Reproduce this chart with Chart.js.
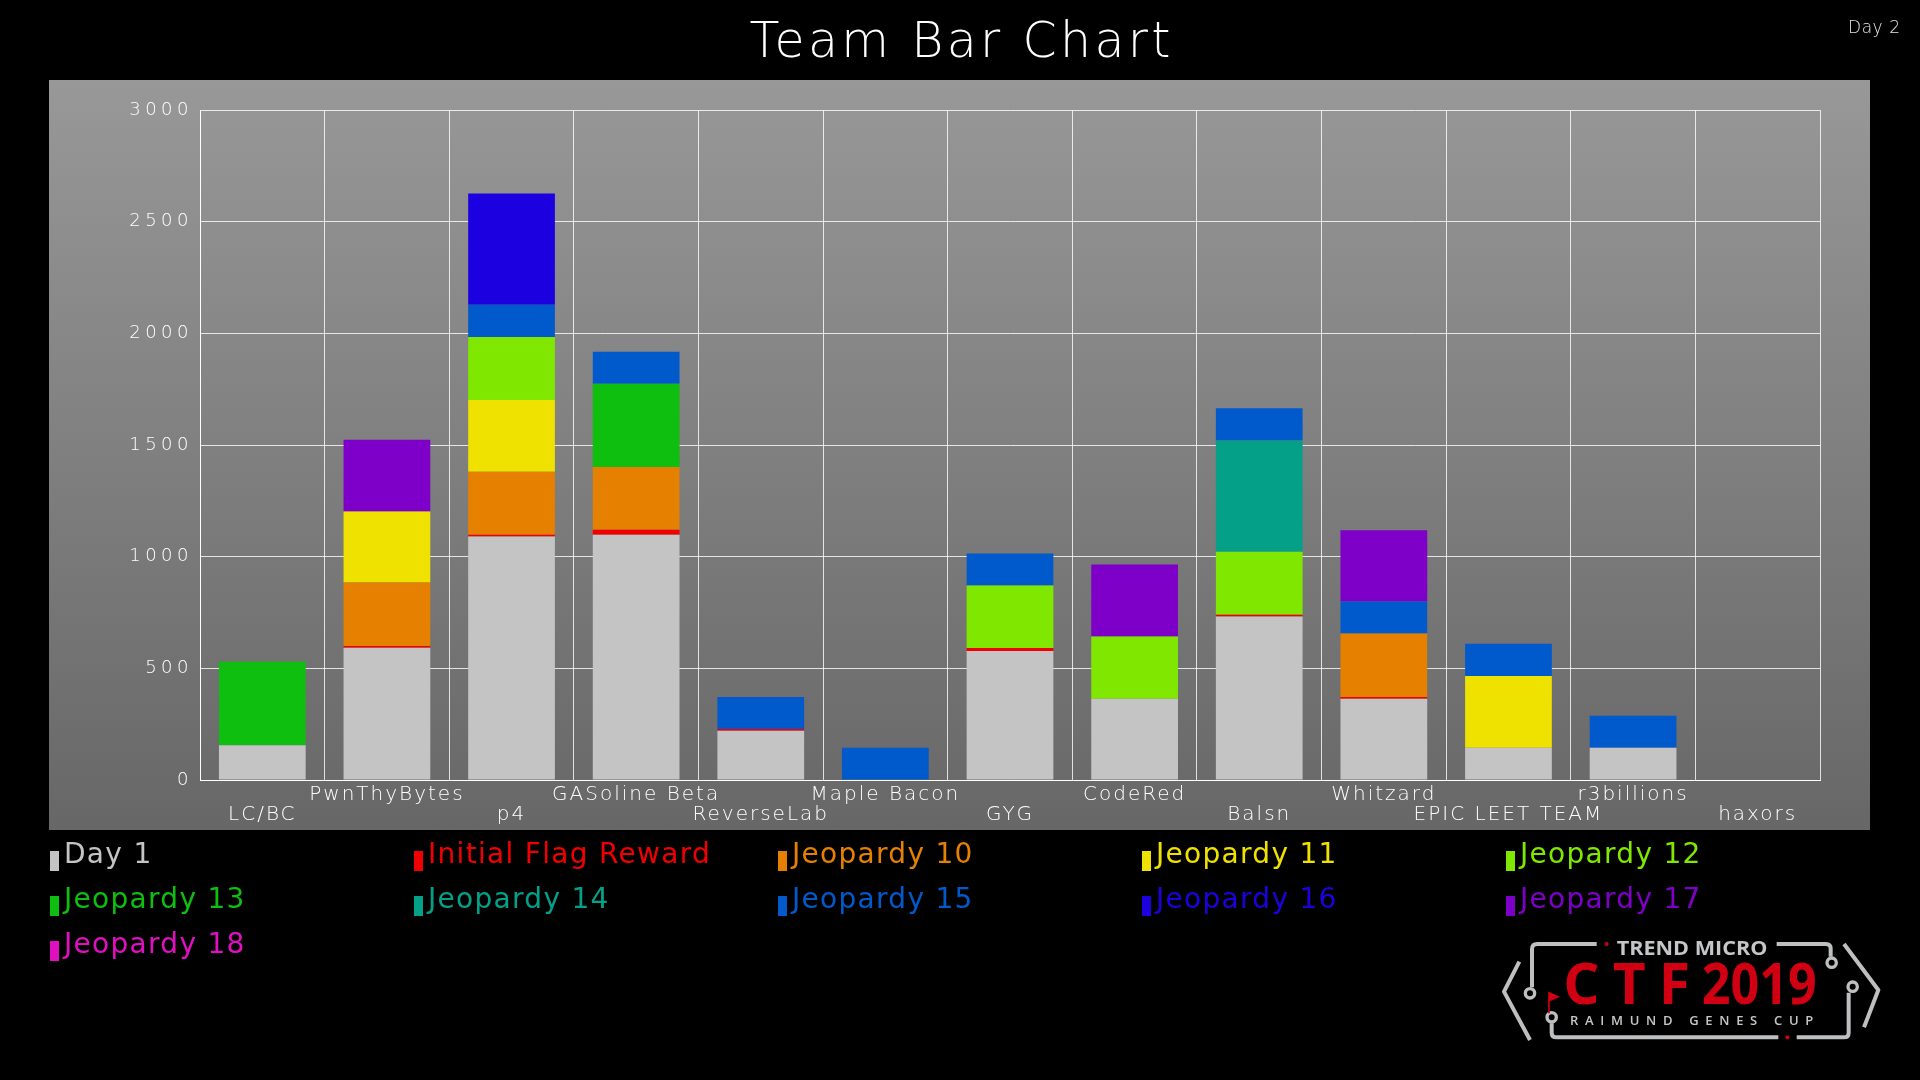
<!DOCTYPE html>
<html>
<head>
<meta charset="utf-8">
<title>Team Bar Chart</title>
<script src="https://cdn.jsdelivr.net/npm/chart.js@4.4.1/dist/chart.umd.min.js"></script>
<style>
  html, body { margin: 0; padding: 0; background: #000; }
  body { width: 1920px; height: 1080px; position: relative; overflow: hidden; font-family: "DejaVu Sans", sans-serif; }
  #panel {
    position: absolute; left: 49px; top: 80px; width: 1821px; height: 750px;
    background: linear-gradient(#989898, #676767);
  }
  #overlay { position: absolute; left: 0; top: 0; pointer-events: none; }
</style>
</head>
<body>
<div id="panel"><canvas id="teamChart"></canvas></div>
<svg id="overlay" width="1920" height="1080" xmlns="http://www.w3.org/2000/svg"></svg>

<script>
// ---- data ----
const teams = ["LC/BC", "PwnThyBytes", "p4", "GASoline Beta", "ReverseLab", "Maple Bacon",
  "GYG", "CodeRed", "Balsn", "Whitzard", "EPIC LEET TEAM", "r3billions", "haxors"];

const day1        = [156, 592, 1090, 1098, 220, 0, 578, 364, 732, 364, 144, 144, 0];
const initialFlag = [0, 8, 8, 22, 8, 0, 13, 0, 8, 8, 0, 0, 0];
const jeopardy10  = [0, 284, 282, 282, 0, 0, 0, 0, 0, 284, 0, 0, 0];
const jeopardy11  = [0, 318, 322, 0, 0, 0, 0, 0, 0, 0, 322, 0, 0];
const jeopardy12  = [0, 0, 282, 0, 0, 0, 280, 279, 282, 0, 0, 0, 0];
const jeopardy13  = [374, 0, 0, 372, 0, 0, 0, 0, 0, 0, 0, 0, 0];
const jeopardy14  = [0, 0, 0, 0, 0, 0, 0, 0, 498, 0, 0, 0, 0];
const jeopardy15  = [0, 0, 144, 144, 144, 144, 143, 0, 144, 143, 144, 144, 0];
const jeopardy16  = [0, 0, 498, 0, 0, 0, 0, 0, 0, 0, 0, 0, 0];
const jeopardy17  = [0, 322, 0, 0, 0, 0, 0, 322, 0, 319, 0, 0, 0];
const jeopardy18  = [0, 0, 0, 0, 0, 0, 0, 0, 0, 0, 0, 0, 0];

const seriesNames = ["Day 1", "Initial Flag Reward", "Jeopardy 10", "Jeopardy 11", "Jeopardy 12",
  "Jeopardy 13", "Jeopardy 14", "Jeopardy 15", "Jeopardy 16", "Jeopardy 17", "Jeopardy 18"];
const seriesData = [day1, initialFlag, jeopardy10, jeopardy11, jeopardy12, jeopardy13,
  jeopardy14, jeopardy15, jeopardy16, jeopardy17, jeopardy18];
const seriesColors = ["#c4c4c4", "#f00000", "#e68000", "#efe100", "#80e800", "#0ebf10",
  "#04a088", "#005acc", "#1c00e0", "#7e00c8", "#e010c0"];

const yMax = 3000;
const yStep = 500;

// labels alternate between two rows (odd index upper, even index lower)
const labels = teams.map((t, i) => (i % 2 === 0 ? ["", t] : [t]));

// ---- chart ----
const spacing = {
  id: "spacing",
  beforeDraw(chart) { chart.ctx.letterSpacing = "2px"; }
};

new Chart(document.getElementById("teamChart"), {
  type: "bar",
  plugins: [spacing],
  data: {
    labels: labels,
    datasets: seriesNames.map((name, i) => ({
      label: name,
      data: seriesData[i],
      backgroundColor: seriesColors[i],
      borderWidth: 0,
      barPercentage: 0.87,
      categoryPercentage: 0.8
    }))
  },
  options: {
    responsive: true,
    maintainAspectRatio: false,
    animation: false,
    layout: { padding: { top: 30, right: 50, left: 0, bottom: 0 } },
    plugins: {
      legend: { display: false },
      tooltip: { enabled: false }
    },
    scales: {
      x: {
        stacked: true,
        grid: { color: "rgba(255,255,255,0.8)", drawTicks: false },
        border: { color: "#ffffff" },
        ticks: {
          color: "#ffffff",
          autoSkip: false,
          maxRotation: 0,
          minRotation: 0,
          padding: 5,
          font: { family: "DejaVu Sans", size: 20, weight: "200", lineHeight: 1.0 }
        },
        afterFit(s) { s.height = 50; }
      },
      y: {
        stacked: true,
        min: 0,
        max: yMax,
        grid: { color: "rgba(255,255,255,0.8)", drawTicks: false },
        border: { color: "#ffffff" },
        ticks: {
          stepSize: yStep,
          color: "#ffffff",
          padding: 7,
          callback: v => String(v),
          font: { family: "DejaVu Sans", size: 18, weight: "200" }
        },
        afterFit(s) {
          s.width = 151;
          if (!s.spaced) {
            const draw = s.drawLabels;
            s.drawLabels = function (area) {
              this.ctx.letterSpacing = "4.5px";
              draw.call(this, area);
              this.ctx.letterSpacing = "2px";
            };
            s.spaced = true;
          }
        }
      }
    }
  }
});

// ---- title, legend, logo ----
const NS = "http://www.w3.org/2000/svg";
const svg = document.getElementById("overlay");
function el(tag, attrs, text, parent) {
  const e = document.createElementNS(NS, tag);
  for (const k in attrs) e.setAttribute(k, attrs[k]);
  if (text != null) e.textContent = text;
  (parent || svg).appendChild(e);
  return e;
}

el("text", { x: 960, y: 57, "text-anchor": "middle", fill: "#ffffff", "font-family": "DejaVu Sans",
  "font-weight": 200, "font-size": 49, textLength: 421 }, "Team Bar Chart");
el("text", { x: 1848, y: 33, fill: "#e6e6e6", "font-family": "DejaVu Sans", "font-weight": 200,
  "font-size": 17, textLength: 52 }, "Day 2");

// legend: 5 columns, 45px rows
seriesNames.forEach((name, i) => {
  const cx = 50 + (i % 5) * 364;
  const base = 863 + Math.floor(i / 5) * 45;
  el("rect", { x: cx, y: base - 12, width: 9, height: 20, fill: seriesColors[i] });
  el("text", { x: cx + 14, y: base, fill: seriesColors[i], "font-family": "DejaVu Sans",
    "font-weight": 400, "font-size": 28, "letter-spacing": 1.3 }, name);
});

// logo
const logo = el("svg", { x: 1480, y: 930, width: 420, height: 120, viewBox: "0 0 1260 360" });
const grey = "#bdbfc1", red = "#d00012";
const frame = [
  "M350,42 H172 Q156,42 156,58 V172",
  "M118,95 L72,185 L150,330",
  "M215,280 V308 Q215,322 230,322 H895",
  "M950,322 H1092 Q1106,322 1106,308 V188",
  "M890,42 H1038 Q1052,42 1052,56 V80",
  "M1092,42 L1195,180 L1152,292"
];
frame.forEach(d => el("path", { d: d, fill: "none", stroke: grey, "stroke-width": 12,
  "stroke-linejoin": "round" }, null, logo));
[[150, 190], [215, 262], [1118, 170], [1055, 98]].forEach(([x, y]) =>
  el("circle", { cx: x, cy: y, r: 14, fill: "#000", stroke: grey, "stroke-width": 10 }, null, logo));
el("circle", { cx: 380, cy: 42, r: 6, fill: red }, null, logo);
el("circle", { cx: 922, cy: 322, r: 6, fill: red }, null, logo);
el("path", { d: "M207,250 V188 L234,200 L207,212", fill: red, stroke: red, "stroke-width": 5 }, null, logo);
el("text", { x: 410, y: 75, fill: "#c4c6c8", "font-family": "Open Sans", "font-weight": 700,
  "font-size": 56, textLength: 452, lengthAdjust: "spacingAndGlyphs" }, "TREND MICRO", logo);
el("text", { x: 250, y: 222, fill: red, "font-family": "Open Sans", "font-weight": 700,
  "font-size": 171, textLength: 380, lengthAdjust: "spacing" }, "CTF", logo);
el("text", { x: 665, y: 222, fill: red, "font-family": "Open Sans", "font-weight": 700,
  "font-size": 171, textLength: 345, lengthAdjust: "spacingAndGlyphs" }, "2019", logo);
el("text", { x: 270, y: 285, fill: "#c4c6c8", "font-family": "Open Sans", "font-weight": 600,
  "font-size": 39, textLength: 730, lengthAdjust: "spacing" }, "RAIMUND GENES CUP", logo);
</script>
</body>
</html>
